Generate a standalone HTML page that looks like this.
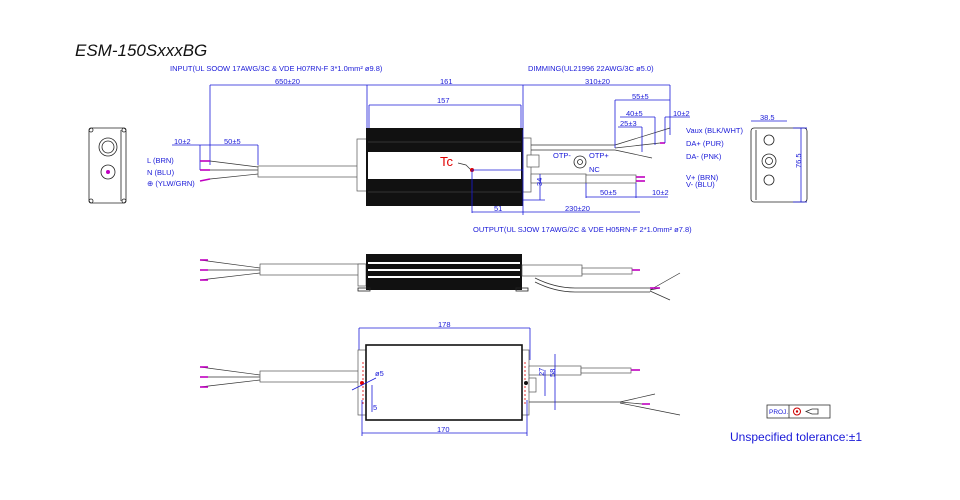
<!DOCTYPE html>
<html><head><meta charset="utf-8"><style>
html,body{margin:0;padding:0;background:#fff}
svg{display:block}
text{font-family:"Liberation Sans",sans-serif}
.b{fill:#1a1ad8;font-size:7.5px}
.d{stroke:#1a1ad8;stroke-width:0.8;fill:none}
.k{stroke:#222;stroke-width:0.8;fill:none}
.c{stroke:#555;stroke-width:0.7;fill:#fff}
.m{stroke:#c000c0;stroke-width:1.6}
.w{stroke:#333;stroke-width:0.7;fill:none}
</style></head><body>
<svg width="960" height="500" viewBox="0 0 960 500" xmlns="http://www.w3.org/2000/svg">
<text x="75" y="56" font-size="17" font-style="italic" fill="#111">ESM-150SxxxBG</text>
<text class="b" x="170" y="71">INPUT(UL SOOW 17AWG/3C &amp; VDE H07RN-F 3*1.0mm² ø9.8)</text>
<text class="b" x="528" y="71">DIMMING(UL21996 22AWG/3C ø5.0)</text>
<text class="b" x="473" y="232">OUTPUT(UL SJOW 17AWG/2C &amp; VDE H05RN-F 2*1.0mm² ø7.8)</text>

<rect x="89" y="128" width="37" height="75" rx="3" class="k" stroke-width="1.2"/>
<line x1="121" y1="130" x2="121" y2="201" class="k"/>
<circle cx="108" cy="147" r="9" class="k" stroke-width="1.5"/><circle cx="108" cy="147" r="6" class="k"/>
<circle cx="108" cy="172" r="7" class="k" stroke-width="1.5"/><circle cx="108" cy="172" r="2" fill="#c000c0"/>
<circle cx="91" cy="130" r="2" class="k"/><circle cx="124" cy="130" r="2" class="k"/><circle cx="91" cy="201" r="2" class="k"/><circle cx="124" cy="201" r="2" class="k"/>

<text class="b" x="147" y="163">L (BRN)</text>
<text class="b" x="147" y="175">N (BLU)</text>
<text class="b" x="147" y="186">⊕ (YLW/GRN)</text>

<line x1="210" y1="85" x2="670" y2="85" class="d"/>
<line x1="210" y1="85" x2="210" y2="165" class="d"/>
<line x1="367" y1="85" x2="367" y2="130" class="d"/>
<line x1="523" y1="85" x2="523" y2="130" class="d"/>
<line x1="670" y1="85" x2="670" y2="135" class="d"/>
<text class="b" x="275" y="84">650±20</text><text class="b" x="440" y="84">161</text><text class="b" x="585" y="84">310±20</text>
<line x1="369" y1="105" x2="521" y2="105" class="d"/>
<line x1="369" y1="105" x2="369" y2="130" class="d"/><line x1="521" y1="105" x2="521" y2="130" class="d"/>
<text class="b" x="437" y="103">157</text>
<line x1="172" y1="145" x2="258" y2="145" class="d"/>
<line x1="200" y1="145" x2="200" y2="170" class="d"/><line x1="258" y1="145" x2="258" y2="165" class="d"/>
<text class="b" x="174" y="144">10±2</text><text class="b" x="224" y="144">50±5</text>
<line x1="200" y1="161" x2="210" y2="161" class="m"/><line x1="200" y1="170" x2="210" y2="170" class="m"/><line x1="200" y1="181" x2="210" y2="179" class="m"/>
<path d="M210 161 L258 167 M210 170 L258 170 M210 179 L258 174" class="w"/>
<rect x="258" y="166" width="108" height="11" class="c"/>
<rect x="357" y="139" width="10" height="52" class="c"/>
<rect x="366" y="128" width="157" height="78" fill="#111"/>
<rect x="368" y="152" width="153" height="27" fill="#fff"/>
<line x1="368" y1="142" x2="521" y2="142" stroke="#555" stroke-width="0.6"/>
<line x1="368" y1="192" x2="521" y2="192" stroke="#555" stroke-width="0.6"/>
<text x="440" y="166" font-size="13" fill="#e00000">Tc</text>
<path d="M458 163 L466 165 L471 170" stroke="#333" fill="none" stroke-width="0.7"/>
<circle cx="472" cy="170" r="2" fill="#e00000"/>
<line x1="472" y1="170" x2="523" y2="170" class="d"/>
<line x1="472" y1="170" x2="472" y2="213" class="d"/>
<line x1="472" y1="212" x2="640" y2="212" class="d"/>
<text class="b" x="494" y="211">51</text><text class="b" x="565" y="211">230±20</text>
<rect x="523" y="138" width="8" height="54" class="c"/>
<rect x="527" y="155" width="12" height="12" class="c"/>
<path d="M531 145 L615 145 M531 150 L615 150" class="w"/>
<path d="M615 145 L670 128 M615 148 L660 143 M615 150 L652 158" class="w"/>
<line x1="660" y1="143" x2="665" y2="143" class="m"/>
<line x1="615" y1="100" x2="670" y2="100" class="d"/><line x1="615" y1="100" x2="615" y2="148" class="d"/>
<text class="b" x="632" y="99">55±5</text>
<line x1="620" y1="117" x2="655" y2="117" class="d"/><line x1="655" y1="117" x2="655" y2="145" class="d"/>
<text class="b" x="626" y="116">40±5</text>
<line x1="665" y1="117" x2="690" y2="117" class="d"/><line x1="665" y1="117" x2="665" y2="143" class="d"/>
<text class="b" x="673" y="116">10±2</text>
<line x1="618" y1="127" x2="642" y2="127" class="d"/><line x1="642" y1="127" x2="642" y2="152" class="d"/>
<text class="b" x="620" y="126">25±3</text>
<text class="b" x="686" y="133">Vaux (BLK/WHT)</text>
<text class="b" x="686" y="146">DA+ (PUR)</text>
<text class="b" x="686" y="159">DA- (PNK)</text>
<text class="b" x="686" y="180">V+ (BRN)</text>
<text class="b" x="686" y="187">V- (BLU)</text>
<circle cx="580" cy="162" r="6" class="k" stroke-width="1.2"/><circle cx="580" cy="162" r="2.5" class="k"/>
<text class="b" x="553" y="158">OTP-</text><text class="b" x="589" y="158">OTP+</text><text class="b" x="589" y="172">NC</text>
<rect x="531" y="174" width="55" height="9" class="c"/>
<rect x="586" y="175" width="50" height="8" class="c"/>
<line x1="636" y1="177" x2="645" y2="177" class="m"/><line x1="636" y1="181" x2="645" y2="181" class="m"/>
<line x1="540" y1="174" x2="540" y2="200" class="d"/><line x1="523" y1="200" x2="545" y2="200" class="d"/>
<text class="b" x="542" y="194" transform="rotate(-90 538 190)">34</text>
<line x1="586" y1="197" x2="668" y2="197" class="d"/><line x1="586" y1="183" x2="586" y2="198" class="d"/><line x1="636" y1="183" x2="636" y2="198" class="d"/>
<text class="b" x="600" y="195">50±5</text><text class="b" x="652" y="195">10±2</text>
<line x1="523" y1="130" x2="523" y2="215" class="d"/>

<rect x="751" y="128" width="56" height="74" rx="3" class="k" stroke-width="1.2"/>
<line x1="756" y1="130" x2="756" y2="200" class="k"/>
<circle cx="769" cy="140" r="5" class="k" stroke-width="1.5"/>
<circle cx="769" cy="161" r="7" class="k" stroke-width="1.5"/><circle cx="769" cy="161" r="3.5" class="k"/>
<circle cx="769" cy="180" r="5" class="k" stroke-width="1.5"/>
<line x1="751" y1="121" x2="787" y2="121" class="d"/><text class="b" x="760" y="120">38.5</text>
<line x1="801" y1="128" x2="801" y2="202" class="d"/><line x1="793" y1="128" x2="807" y2="128" class="d"/><line x1="793" y1="202" x2="807" y2="202" class="d"/>
<text class="b" x="796" y="173" transform="rotate(-90 796 168)">76.5</text>

<path d="M200 260 L260 268 M200 270 L260 270 M200 280 L260 273" class="w"/>
<line x1="200" y1="260" x2="208" y2="260" class="m"/><line x1="200" y1="270" x2="208" y2="270" class="m"/><line x1="200" y1="280" x2="208" y2="280" class="m"/>
<rect x="260" y="264" width="105" height="11" class="c"/>
<rect x="358" y="264" width="8" height="22" class="c"/>
<rect x="366" y="254" width="156" height="36" fill="#111"/>
<line x1="368" y1="263" x2="520" y2="263" stroke="#fff" stroke-width="2"/>
<line x1="368" y1="270" x2="520" y2="270" stroke="#fff" stroke-width="2"/>
<line x1="368" y1="277" x2="520" y2="277" stroke="#fff" stroke-width="2"/>
<rect x="522" y="265" width="60" height="11" class="c"/>
<rect x="582" y="268" width="50" height="6" class="c"/>
<line x1="632" y1="270" x2="640" y2="270" class="m"/>
<path d="M535 278 Q555 288 575 288 L650 288 M535 282 Q555 292 575 292 L650 292" class="w"/>
<path d="M650 290 L680 273 M650 290 L660 288 M650 291 L670 300" class="w"/>
<line x1="650" y1="288" x2="660" y2="288" class="m"/>
<rect x="358" y="288" width="12" height="3" class="k"/><rect x="516" y="288" width="12" height="3" class="k"/>

<line x1="359" y1="328" x2="530" y2="328" class="d"/><line x1="359" y1="328" x2="359" y2="360" class="d"/><line x1="530" y1="328" x2="530" y2="360" class="d"/>
<text class="b" x="438" y="327">178</text>
<path d="M200 367 L260 375 M200 377 L260 377 M200 387 L260 380" class="w"/>
<line x1="200" y1="367" x2="208" y2="367" class="m"/><line x1="200" y1="377" x2="208" y2="377" class="m"/><line x1="200" y1="387" x2="208" y2="387" class="m"/>
<rect x="260" y="371" width="100" height="11" class="c"/>
<rect x="358" y="350" width="8" height="65" class="c"/>
<rect x="521" y="350" width="8" height="65" class="c"/>
<rect x="366" y="345" width="156" height="75" fill="#fff" stroke="#111" stroke-width="1.6"/>
<line x1="363" y1="362" x2="363" y2="404" stroke="#e00000" stroke-width="0.8" stroke-dasharray="2,2"/>
<line x1="525" y1="362" x2="525" y2="404" stroke="#e00000" stroke-width="0.8" stroke-dasharray="2,2"/>
<circle cx="362" cy="383" r="2" fill="#e00000"/><circle cx="526" cy="383" r="2" fill="#111"/>
<text class="b" x="375" y="376">ø5</text><line x1="352" y1="390" x2="376" y2="378" class="d"/>
<line x1="372" y1="385" x2="372" y2="412" class="d"/><text class="b" x="373" y="410">5</text>
<rect x="529" y="378" width="7" height="14" class="c"/>
<rect x="529" y="366" width="52" height="9" class="c"/><rect x="581" y="368" width="50" height="5" class="c"/>
<line x1="631" y1="370" x2="640" y2="370" class="m"/>
<path d="M529 402 L620 402 M620 402 L655 394 M620 402 L642 404 M620 403 L680 415" class="w"/>
<line x1="642" y1="404" x2="650" y2="404" class="m"/>
<line x1="545" y1="370" x2="545" y2="396" class="d"/><line x1="555" y1="354" x2="555" y2="410" class="d"/>
<text class="b" x="548" y="386" transform="rotate(-90 541 383)">27</text>
<text class="b" x="558" y="386" transform="rotate(-90 552 383)">58</text>
<line x1="362" y1="433" x2="527" y2="433" class="d"/><line x1="362" y1="400" x2="362" y2="436" class="d"/><line x1="527" y1="400" x2="527" y2="436" class="d"/>
<text class="b" x="437" y="432">170</text>

<rect x="767" y="405" width="63" height="13" fill="none" stroke="#333" stroke-width="0.8"/>
<line x1="789" y1="405" x2="789" y2="418" stroke="#333" stroke-width="0.8"/>
<text x="769" y="414" font-size="6.5" fill="#1a1ad8">PROJ.</text>
<circle cx="797" cy="411.5" r="3.5" fill="none" stroke="#c00" stroke-width="1"/><circle cx="797" cy="411.5" r="1.2" fill="#c00"/>
<path d="M806 411.5 L812 409 L818 409 L818 414 L812 414 Z" fill="none" stroke="#333" stroke-width="0.8"/>
<text x="730" y="441" font-size="12" fill="#1a1ad8">Unspecified tolerance:±1</text>
</svg>
</body></html>
